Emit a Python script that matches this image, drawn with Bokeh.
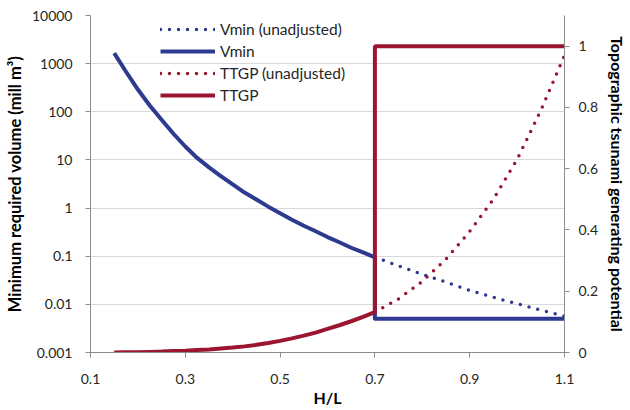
from bokeh.plotting import figure
from bokeh.models import Range1d, LinearAxis, LinearScale, FixedTicker, Legend, LegendItem
from bokeh.embed import file_html
from bokeh.resources import INLINE

# ---- data ----
hl_main = [0.150, 0.175, 0.200, 0.225, 0.250, 0.275, 0.300, 0.325, 0.350, 0.375, 0.400, 0.425,
           0.450, 0.475, 0.500, 0.525, 0.550, 0.575, 0.600, 0.625, 0.650, 0.675, 0.700]
vmin_main = [1650, 680, 290, 135, 68, 35, 19, 11, 7.0, 4.6, 3.1, 2.1,
             1.5, 1.07, 0.78, 0.57, 0.43, 0.33, 0.25, 0.195, 0.15, 0.12, 0.095]
ttgp_main = [0.000, 0.0005, 0.001, 0.002, 0.003, 0.0045, 0.006, 0.008, 0.010, 0.013, 0.016, 0.020,
             0.025, 0.031, 0.038, 0.046, 0.055, 0.065, 0.077, 0.089, 0.102, 0.116, 0.132]

hl_tail = [0.70, 0.75, 0.80, 0.85, 0.90, 0.95, 1.00, 1.05, 1.10]
vmin_unadj_tail = [0.095, 0.063, 0.042, 0.029, 0.0195, 0.014, 0.0103, 0.0076, 0.0057]
ttgp_unadj_tail = [0.132, 0.175, 0.232, 0.305, 0.395, 0.50, 0.63, 0.79, 0.97]

vmin_adjusted_level = 0.005
ttgp_adjusted_level = 1.0

x_ticks = [0.1, 0.3, 0.5, 0.7, 0.9, 1.1]
x_tick_labels = ["0.1", "0.3", "0.5", "0.7", "0.9", "1.1"]
y_ticks = [0.001, 0.01, 0.1, 1, 10, 100, 1000, 10000]
y_tick_labels = ["0.001", "0.01", "0.1", "1", "10", "100", "1000", "10000"]
y2_ticks = [0, 0.2, 0.4, 0.6, 0.8, 1.0]
y2_tick_labels = ["0", "0.2", "0.4", "0.6", "0.8", "1"]

BLUE = "#2E3A8F"
RED = "#9B1530"
FONT = "Lato"
TXT = "#262626"

p = figure(width=630, height=410, output_backend="svg", toolbar_location=None,
           y_axis_type="log", x_range=Range1d(0.1, 1.1), y_range=Range1d(0.001, 10000),
           min_border_left=90, min_border_right=63, min_border_top=15, min_border_bottom=58)
p.outline_line_color = None
p.extra_y_ranges = {"ttgp": Range1d(0, 1.1)}
p.extra_y_scales = {"ttgp": LinearScale()}

def style_axis(ax, label_size):
    ax.axis_line_color = "#8C8C8C"
    ax.major_tick_line_color = "#8C8C8C"
    ax.major_tick_out = 5
    ax.major_tick_in = 0
    ax.minor_tick_line_color = None
    ax.major_label_text_font = FONT
    ax.major_label_text_font_size = "14px"
    ax.major_label_text_color = TXT
    ax.axis_label_text_font = FONT
    ax.axis_label_text_font_size = label_size
    ax.axis_label_text_font_style = "bold"
    ax.axis_label_text_color = "#000000"

xa = p.xaxis[0]
style_axis(xa, "16px")
xa.ticker = FixedTicker(ticks=x_ticks)
xa.major_label_overrides = dict(zip(x_ticks, x_tick_labels))
xa.axis_label = "H/L"
xa.major_label_standoff = 16
xa.axis_label_standoff = 1

ya = p.yaxis[0]
style_axis(ya, "16.5px")
ya.ticker = FixedTicker(ticks=y_ticks)
ya.major_label_overrides = dict(zip(y_ticks, y_tick_labels))
ya.axis_label = "Minimum required volume (mill m\u00b3)"
ya.major_label_standoff = 13
ya.axis_label_standoff = 4

ra = LinearAxis(y_range_name="ttgp", ticker=FixedTicker(ticks=y2_ticks),
                axis_label="Topographic tsunami generating potential")
style_axis(ra, "16px")
ra.major_label_overrides = dict(zip(y2_ticks, y2_tick_labels))
ra.major_label_standoff = 9
ra.axis_label_standoff = 7
p.add_layout(ra, "right")

p.xgrid.grid_line_color = None
p.ygrid.grid_line_color = "#D9D9D9"
p.ygrid.ticker = FixedTicker(ticks=y_ticks)

# lines
r_vu = p.line(hl_tail, vmin_unadj_tail, line_color=BLUE, line_width=3.5,
              line_dash="0 9", line_cap="round")
r_v = p.line(hl_main + [hl_tail[0], hl_tail[-1]],
             vmin_main + [vmin_adjusted_level, vmin_adjusted_level],
             line_color=BLUE, line_width=4, line_join="round")
r_tu = p.line(hl_tail, ttgp_unadj_tail, line_color=RED, line_width=3.5,
              line_dash="0 9", line_cap="round", y_range_name="ttgp")
r_t = p.line(hl_main + [hl_tail[0], hl_tail[-1]],
             ttgp_main + [ttgp_adjusted_level, ttgp_adjusted_level],
             line_color=RED, line_width=4, y_range_name="ttgp")

legend = Legend(items=[
    LegendItem(label="Vmin (unadjusted)", renderers=[r_vu]),
    LegendItem(label="Vmin", renderers=[r_v]),
    LegendItem(label="TTGP (unadjusted)", renderers=[r_tu]),
    LegendItem(label="TTGP", renderers=[r_t]),
], location=(70, 246))
legend.border_line_color = None
legend.background_fill_alpha = 0
legend.margin = 0
legend.padding = 0
legend.spacing = 0
legend.glyph_width = 55
legend.glyph_height = 22
legend.label_height = 22
legend.label_standoff = 5
legend.label_text_font = FONT
legend.label_text_font_size = "15.5px"
legend.label_text_color = TXT
p.add_layout(legend, "center")

open("out.html", "w").write(file_html(p, INLINE))
